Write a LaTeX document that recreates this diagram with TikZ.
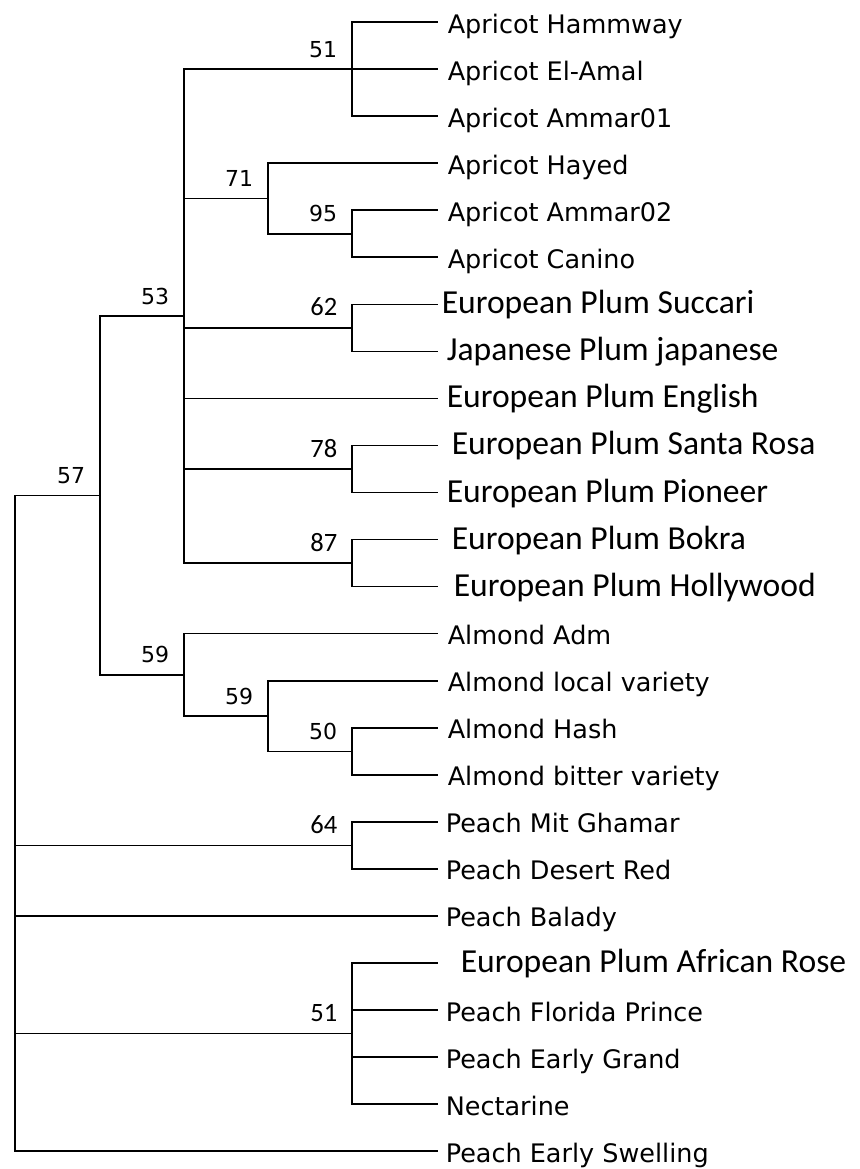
\documentclass[tikz,border=0pt]{standalone}
\usepackage{fontspec}
\setmainfont{DejaVu Sans}
\newfontfamily\calib{Carlito}

\begin{document}
\begin{tikzpicture}[x=1bp,y=-1bp,line width=1.6bp,line cap=rect]
\tikzstyle{every node}+=[inner sep=0pt]
\tikzstyle{taxon}=[anchor=base west,font=\fontsize{25.5bp}{30bp}\selectfont]
\tikzstyle{plum}=[anchor=base west,font=\calib\fontsize{33.6bp}{40bp}\selectfont]
\tikzstyle{boot}=[anchor=base east,xshift=-14bp,yshift=12bp,font=\fontsize{22bp}{26bp}\selectfont]
\tikzstyle{bootc}=[anchor=base east,xshift=-14bp,yshift=12bp,font=\calib\fontsize{26.5bp}{30bp}\selectfont]
\useasboundingbox (0,0) rectangle (860,1169);

% leaf tips
\foreach \i in {1,...,25}
  \coordinate (l\i) at (437,{22+47.05*(\i-1)});

% inner nodes
\coordinate (root) at (15,495.4);
\coordinate (n57) at (100,495.4);
\coordinate (n53) at (184,316.1);
\coordinate (n51a) at (352,69.05);
\coordinate (n71) at (268,198.4);
\coordinate (n95) at (352,233.7);
\coordinate (n62) at (352,327.8);
\coordinate (n78) at (352,469);
\coordinate (n87) at (352,563.1);
\coordinate (n59a) at (184,674.8);
\coordinate (n59b) at (268,716);
\coordinate (n50) at (352,751.3);
\coordinate (n64) at (352,845.4);
\coordinate (n51b) at (352,1033.6);

% branches
\foreach \p/\c in {root/n57,root/n64,root/l20,root/n51b,root/l25,
    n57/n53,n57/n59a,
    n53/n51a,n53/n71,n53/n62,n53/l9,n53/n78,n53/n87,
    n51a/l1,n51a/l2,n51a/l3,
    n71/l4,n71/n95,n95/l5,n95/l6,
    n62/l7,n62/l8,n78/l10,n78/l11,n87/l12,n87/l13,
    n59a/l14,n59a/n59b,n59b/l15,n59b/n50,n50/l16,n50/l17,
    n64/l18,n64/l19,
    n51b/l21,n51b/l22,n51b/l23,n51b/l24}
  \draw (\p) |- (\c);

% taxa
\foreach \i/\dx/\txt in {1/10/Apricot Hammway,2/10/Apricot El-Amal,
    3/10/Apricot Ammar01,4/10/Apricot Hayed,5/10/Apricot Ammar02,
    6/10/Apricot Canino,14/10/Almond Adm,15/10/Almond local variety,
    16/10/Almond Hash,17/10/Almond bitter variety,18/8/Peach Mit Ghamar,
    19/8/Peach Desert Red,20/8/Peach Balady,22/8/Peach Florida Prince,
    23/8/Peach Early Grand,24/8/Nectarine,25/8/Peach Early Swelling}
  \node[taxon,xshift=\dx bp,yshift=-11bp] (t\i) at (l\i) {\txt};
\foreach \i/\dx/\txt in {7/4/European Plum Succari,8/9/Japanese Plum japanese,
    9/9/European Plum English,10/14/European Plum Santa Rosa,
    11/9/European Plum Pioneer,12/14/European Plum Bokra,
    13/16/European Plum Hollywood,21/23/European Plum African Rose}
  \node[plum,xshift=\dx bp,yshift=-9.5bp] (t\i) at (l\i) {\txt};

% bootstrap values
\node[boot] (b57) at (n57) {57};
\node[boot] (b53) at (n53) {53};
\node[boot] (b51a) at (n51a) {51};
\node[boot] (b71) at (n71) {71};
\node[boot] (b95) at (n95) {95};
\node[bootc] (b62) at (n62) {62};
\node[bootc] (b78) at (n78) {78};
\node[bootc] (b87) at (n87) {87};
\node[boot] (b59a) at (n59a) {59};
\node[boot] (b59b) at (n59b) {59};
\node[boot] (b50) at (n50) {50};
\node[bootc] (b64) at (n64) {64};
\node[bootc] (b51b) at (n51b) {51};
\end{tikzpicture}
\end{document}
